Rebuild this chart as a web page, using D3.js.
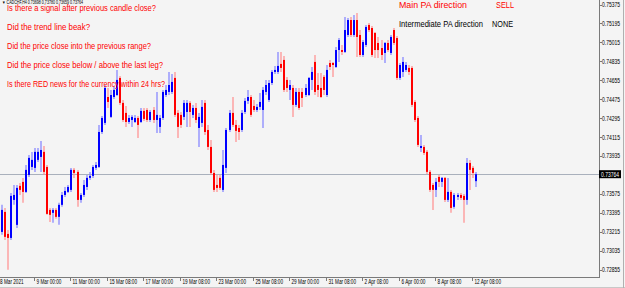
<!DOCTYPE html>
<html>
<head>
<meta charset="utf-8">
<script src="https://cdn.jsdelivr.net/npm/d3@7"></script>
<style>
  html, body { margin: 0; padding: 0; background: #f4f4f4; }
  svg { display: block; font-family: "Liberation Sans", Arial, sans-serif; }
</style>
</head>
<body>
<div id="chart"></div>
<script>
// CADCHF H4 candles
const opens = [0.73216,0.73406,0.73197,0.73159,0.73520,0.73283,0.73653,0.73691,0.73596,0.73757,
  0.73833,0.73824,0.73900,0.73928,0.73976,0.73833,0.73425,0.73397,0.73425,0.73359,
  0.73473,0.73567,0.73596,0.73615,0.73805,0.73786,0.73520,0.73567,0.73643,0.73729,
  0.73748,0.73824,0.73833,0.74165,0.74251,0.74497,0.74308,0.74497,0.74516,0.74678,
  0.74441,0.74346,0.74260,0.74279,0.74260,0.74298,0.74260,0.74365,0.74374,0.74279,
  0.74374,0.74279,0.74213,0.74298,0.74516,0.74545,0.74545,0.74678,0.74346,0.74327,
  0.74308,0.74355,0.74441,0.74327,0.74393,0.74203,0.74251,0.74441,0.74184,0.74023,
  0.73776,0.73662,0.73729,0.73615,0.73824,0.74184,0.74346,0.74232,0.74203,0.74184,
  0.74355,0.74460,0.74497,0.74412,0.74374,0.74403,0.74374,0.74545,0.74469,0.74630,
  0.74735,0.74735,0.74811,0.74849,0.74659,0.74564,0.74583,0.74422,0.74545,0.74545,
  0.74516,0.74516,0.74659,0.74830,0.74611,0.74583,0.74688,0.74516,0.74820,0.74820,
  0.74782,0.74943,0.74943,0.74925,0.75086,0.75228,0.75086,0.75228,0.75086,0.74896,
  0.74991,0.75181,0.75152,0.75105,0.75010,0.74962,0.74915,0.75010,0.74915,0.75133,
  0.75057,0.74678,0.74735,0.74754,0.74773,0.74773,0.74450,0.74298,0.74013,0.74023,
  0.73976,0.73786,0.73662,0.73615,0.73738,0.73691,0.73729,0.73520,0.73596,0.73454,
  0.73548,0.73567,0.73558,0.73520,0.73871,0.73824,0.73698];
const highs = [0.73473,0.73444,0.73235,0.73586,0.73662,0.73662,0.73681,0.73729,0.73852,0.73947,
  0.73976,0.74013,0.74013,0.74080,0.74032,0.73852,0.73444,0.73444,0.73444,0.73492,
  0.73596,0.73643,0.73662,0.73824,0.73824,0.73805,0.73586,0.73710,0.73757,0.73786,
  0.73852,0.73881,0.74232,0.74317,0.74611,0.74583,0.74564,0.74602,0.74754,0.74697,
  0.74469,0.74412,0.74327,0.74327,0.74327,0.74317,0.74393,0.74393,0.74393,0.74374,
  0.74403,0.74545,0.74327,0.74564,0.74611,0.74735,0.74716,0.74735,0.74374,0.74355,
  0.74469,0.74469,0.74460,0.74422,0.74441,0.74346,0.74469,0.74469,0.74232,0.74089,
  0.73805,0.73757,0.73757,0.73994,0.74203,0.74374,0.74497,0.74279,0.74232,0.74374,
  0.74488,0.74564,0.74516,0.74469,0.74431,0.74535,0.74592,0.74659,0.74659,0.74754,
  0.74792,0.74925,0.74925,0.74887,0.74688,0.74659,0.74611,0.74583,0.74583,0.74583,
  0.74621,0.74688,0.74782,0.74896,0.74725,0.74725,0.74706,0.74801,0.74849,0.74830,
  0.74972,0.75057,0.74991,0.75257,0.75247,0.75257,0.75276,0.75295,0.75133,0.75038,
  0.75181,0.75200,0.75171,0.75114,0.75067,0.75038,0.75019,0.75038,0.75086,0.75152,
  0.75076,0.74820,0.74877,0.74830,0.74801,0.74792,0.74469,0.74317,0.74137,0.74042,
  0.73994,0.73805,0.73681,0.73729,0.73757,0.73738,0.73738,0.73729,0.73615,0.73586,
  0.73586,0.73586,0.73577,0.73919,0.73900,0.73843,0.73786];
const lows = [0.73188,0.73140,0.72856,0.73140,0.73473,0.73254,0.73567,0.73492,0.73586,0.73738,
  0.73805,0.73786,0.73881,0.73786,0.73757,0.73378,0.73311,0.73302,0.73340,0.73283,
  0.73454,0.73548,0.73586,0.73596,0.73729,0.73454,0.73492,0.73548,0.73615,0.73710,
  0.73729,0.73805,0.73824,0.74146,0.74232,0.74393,0.74298,0.74478,0.74507,0.74422,
  0.74260,0.74213,0.74241,0.74213,0.74251,0.74108,0.74251,0.74270,0.74260,0.74260,
  0.74251,0.74156,0.74156,0.74279,0.74497,0.74516,0.74526,0.74308,0.74108,0.74203,
  0.74279,0.74213,0.74213,0.74298,0.74251,0.74023,0.74213,0.74137,0.73994,0.73757,
  0.73596,0.73596,0.73615,0.73596,0.73776,0.74165,0.74213,0.74070,0.74089,0.74165,
  0.74336,0.74431,0.74308,0.74355,0.74355,0.74374,0.74203,0.74516,0.74450,0.74611,
  0.74716,0.74716,0.74735,0.74545,0.74545,0.74469,0.74308,0.74403,0.74374,0.74403,
  0.74497,0.74507,0.74564,0.74516,0.74497,0.74488,0.74516,0.74497,0.74754,0.74688,
  0.74773,0.74830,0.74896,0.74915,0.75067,0.75067,0.75067,0.74877,0.74877,0.74877,
  0.74972,0.75114,0.74877,0.74868,0.74868,0.74849,0.74820,0.74925,0.74896,0.74991,
  0.74659,0.74659,0.74688,0.74735,0.74706,0.74403,0.74260,0.74023,0.73976,0.73947,
  0.73767,0.73596,0.73425,0.73548,0.73643,0.73643,0.73501,0.73501,0.73397,0.73435,
  0.73520,0.73520,0.73302,0.73473,0.73615,0.73729,0.73643];
const closes = [0.73425,0.73169,0.73159,0.73558,0.73567,0.73634,0.73615,0.73596,0.73805,0.73919,
  0.73900,0.73976,0.73976,0.73994,0.73786,0.73387,0.73378,0.73425,0.73359,0.73473,
  0.73567,0.73605,0.73643,0.73805,0.73776,0.73520,0.73567,0.73662,0.73729,0.73748,
  0.73833,0.73852,0.74165,0.74298,0.74583,0.74450,0.74516,0.74564,0.74659,0.74441,
  0.74279,0.74260,0.74298,0.74308,0.74298,0.74232,0.74365,0.74289,0.74279,0.74355,
  0.74279,0.74327,0.74298,0.74545,0.74564,0.74611,0.74640,0.74327,0.74213,0.74232,
  0.74441,0.74441,0.74355,0.74393,0.74279,0.74308,0.74403,0.74165,0.74023,0.73776,
  0.73615,0.73634,0.73634,0.73852,0.74184,0.74346,0.74232,0.74175,0.74165,0.74346,
  0.74460,0.74497,0.74327,0.74374,0.74403,0.74450,0.74564,0.74611,0.74630,0.74735,
  0.74754,0.74792,0.74773,0.74564,0.74583,0.74611,0.74422,0.74545,0.74393,0.74488,
  0.74583,0.74678,0.74735,0.74545,0.74564,0.74497,0.74564,0.74754,0.74782,0.74801,
  0.74943,0.75038,0.74925,0.75133,0.75228,0.75086,0.75228,0.75067,0.74896,0.75019,
  0.75162,0.75133,0.74896,0.74943,0.74943,0.74896,0.75010,0.74943,0.75067,0.75010,
  0.74678,0.74801,0.74830,0.74801,0.74735,0.74422,0.74279,0.74042,0.74032,0.73966,
  0.73786,0.73615,0.73615,0.73691,0.73691,0.73729,0.73520,0.73596,0.73444,0.73567,
  0.73567,0.73539,0.73520,0.73871,0.73805,0.73776,0.73764];

const priceTicks = [0.75375,0.75195,0.75015,0.74835,0.74655,0.74475,0.74295,0.74115,
  0.73935,0.73755,0.73575,0.73395,0.73215,0.73035,0.72855];
const timeTickIdx = [11,23,35,47,59,71,83,95,107,119,131,143,155];
const timeTickLabels = ["9 Mar 00:00","11 Mar 00:00","15 Mar 08:00","17 Mar 00:00","19 Mar 08:00",
  "23 Mar 00:00","25 Mar 08:00","29 Mar 00:00","31 Mar 08:00","2 Apr 08:00","6 Apr 00:00",
  "8 Apr 08:00","12 Apr 08:00"];
const firstDateLabel = "8 Mar 2021";
const lastPrice = 0.73764;
const headerText = "\u25BC CADCHF,H4  0.73698 0.73780 0.73659 0.73764";
const questions = ["Is there a signal after previous candle close?",
  "Did the trend line beak?",
  "Did the price close into the previous range?",
  "Did the price close below / above the last leg?",
  "Is there RED news for the currency within 24 hrs?"];
const questionWidths = [149, 83, 144, 156, 158];
const statusLabels = ["Main PA direction", "Intermediate PA direction"];
const statusValues = ["SELL", "NONE"];

const width = 625, height = 288;
const plotRight = 599, plotBottom = 277;

const svg = d3.select('#chart').append('svg')
    .attr('width', width)
    .attr('height', height);

svg.append('rect').attr('width', width).attr('height', height).attr('fill', '#f4f4f4');

const x = d3.scaleLinear()
    .domain([0, closes.length - 1])
    .range([0.5, 0.5 + 3.04 * (closes.length - 1)]);
const y = d3.scaleLinear()
    .domain([0.72788, 0.75418])
    .range([plotBottom, 0]);

// squeeze text horizontally like the screenshot
function squeeze(sel, k) {
    sel.each(function() {
        const w = this.getComputedTextLength();
        d3.select(this).attr('textLength', w * k).attr('lengthAdjust', 'spacingAndGlyphs');
    });
}

// current price line
svg.append('line')
    .attr('x1', 0).attr('x2', plotRight)
    .attr('y1', Math.round(y(lastPrice)) + 0.5).attr('y2', Math.round(y(lastPrice)) + 0.5)
    .style('stroke', '#a9b0bc').style('stroke-width', 1);

const bars = d3.range(closes.length).map(i => ({
    i, o: opens[i], h: highs[i], l: lows[i], c: closes[i]
}));

const g = svg.append('g');
g.selectAll('line.wick')
    .data(bars).enter().append('line')
    .attr('class', 'wick')
    .attr('x1', d => Math.round(x(d.i)) + 1)
    .attr('x2', d => Math.round(x(d.i)) + 1)
    .attr('y1', d => y(d.h))
    .attr('y2', d => y(d.l))
    .style('stroke', d => d.c >= d.o ? '#7f7fff' : '#ff8c8c')
    .style('stroke-width', 1.2);

g.selectAll('rect.body')
    .data(bars).enter().append('rect')
    .attr('class', 'body')
    .attr('x', d => Math.round(x(d.i)))
    .attr('width', 2)
    .attr('y', d => y(Math.max(d.o, d.c)))
    .attr('height', d => Math.max(1, Math.abs(y(d.o) - y(d.c))))
    .style('fill', d => d.c >= d.o ? '#0000ff' : '#ff0000');

// frame
svg.append('line').attr('x1', plotRight + 0.5).attr('x2', plotRight + 0.5)
    .attr('y1', 0).attr('y2', plotBottom + 1).style('stroke', '#7a7a7a');
svg.append('line').attr('x1', 0).attr('x2', plotRight + 1)
    .attr('y1', plotBottom + 0.5).attr('y2', plotBottom + 0.5).style('stroke', '#7a7a7a');
svg.append('line').attr('x1', 0).attr('x2', width)
    .attr('y1', 287.5).attr('y2', 287.5).style('stroke', '#c8c8c8');
svg.append('line').attr('x1', 623.5).attr('x2', 623.5)
    .attr('y1', 0).attr('y2', height).style('stroke', '#b0b0b0');

// price axis
priceTicks.forEach(p => {
    const py = y(p);
    svg.append('line').attr('x1', plotRight).attr('x2', plotRight + 3)
        .attr('y1', Math.round(py) + 0.5).attr('y2', Math.round(py) + 0.5)
        .style('stroke', '#7a7a7a');
    svg.append('text')
        .attr('x', 602).attr('y', py + 2.3)
        .text(p.toFixed(5))
        .style('font-size', '6.5px').style('fill', '#000')
        .attr('textLength', 18).attr('lengthAdjust', 'spacingAndGlyphs');
});

// time axis
timeTickIdx.forEach((idx, k) => {
    const tx = Math.round(x(idx)) + 0.5;
    svg.append('line').attr('x1', tx).attr('x2', tx)
        .attr('y1', plotBottom).attr('y2', plotBottom + 4)
        .style('stroke', '#7a7a7a');
    svg.append('text')
        .attr('x', tx + 2).attr('y', 283.5)
        .text(timeTickLabels[k])
        .style('font-size', '6.5px').style('fill', '#000')
        .call(squeeze, 0.72);
});
svg.append('text')
    .attr('x', 0).attr('y', 283.5)
    .text(firstDateLabel)
    .style('font-size', '6.5px').style('fill', '#000')
    .call(squeeze, 0.72);

// current price tag
svg.append('rect')
    .attr('x', plotRight).attr('y', y(lastPrice) - 4)
    .attr('width', 22).attr('height', 8)
    .style('fill', '#000');
svg.append('text')
    .attr('x', 601).attr('y', y(lastPrice) + 2.3)
    .text(lastPrice.toFixed(5))
    .style('font-size', '6.5px').style('fill', '#fff')
    .attr('textLength', 18).attr('lengthAdjust', 'spacingAndGlyphs');

// header
svg.append('text')
    .attr('x', 2).attr('y', 3.6)
    .text(headerText)
    .style('font-size', '4.6px').style('fill', '#000')
    .attr('textLength', 81).attr('lengthAdjust', 'spacingAndGlyphs');

// question list
svg.selectAll('text.q')
    .data(questions).enter().append('text')
    .attr('class', 'q')
    .attr('x', 7)
    .attr('y', (d, i) => 11.3 + i * 18.8)
    .text(d => d)
    .attr('textLength', (d, i) => questionWidths[i])
    .attr('lengthAdjust', 'spacingAndGlyphs')
    .style('font-size', '9.3px').style('fill', '#ff0000');

// PA direction panel
svg.append('text').attr('x', 399).attr('y', 8).text(statusLabels[0])
    .style('font-size', '8.5px').style('fill', '#ff0000')
    .attr('textLength', 68).attr('lengthAdjust', 'spacingAndGlyphs');
svg.append('text').attr('x', 496).attr('y', 8).text(statusValues[0])
    .style('font-size', '8.5px').style('fill', '#ff0000')
    .attr('textLength', 18).attr('lengthAdjust', 'spacingAndGlyphs');
svg.append('text').attr('x', 399).attr('y', 27).text(statusLabels[1])
    .style('font-size', '8.5px').style('fill', '#000')
    .attr('textLength', 84).attr('lengthAdjust', 'spacingAndGlyphs');
svg.append('text').attr('x', 492).attr('y', 27).text(statusValues[1])
    .style('font-size', '8.5px').style('fill', '#000')
    .attr('textLength', 21).attr('lengthAdjust', 'spacingAndGlyphs');
</script>
</body>
</html>
